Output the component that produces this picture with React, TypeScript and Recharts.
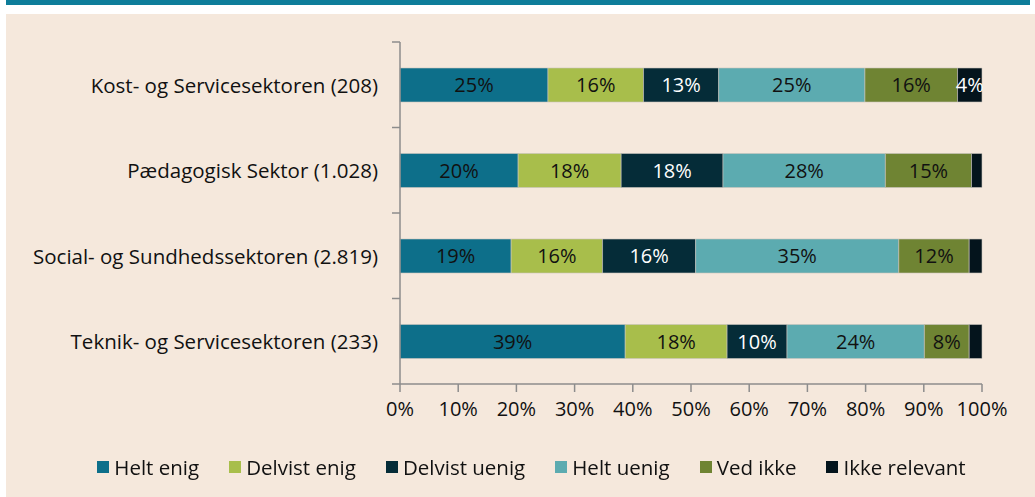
import { Bar, BarChart, LabelList, XAxis, YAxis } from "recharts";

const categories = [
	"Kost- og Servicesektoren (208)",
	"Pædagogisk Sektor (1.028)",
	"Social- og Sundhedssektoren (2.819)",
	"Teknik- og Servicesektoren (233)",
];

const heltEnig = [25.4, 20.3, 19.1, 38.7];
const delvistEnig = [16.4, 17.7, 15.7, 17.5];
const delvistUenig = [12.9, 17.5, 16.0, 10.3];
const heltUenig = [25.1, 27.9, 34.9, 23.6];
const vedIkke = [15.9, 14.8, 12.1, 7.7];
const ikkeRelevant = [4.2, 1.8, 2.2, 2.2];

const xTicks = [0, 0.1, 0.2, 0.3, 0.4, 0.5, 0.6, 0.7, 0.8, 0.9, 1];

const series = [
	{ key: "heltEnig", name: "Helt enig", values: heltEnig, color: "#0d6f8a", text: "#111" },
	{ key: "delvistEnig", name: "Delvist enig", values: delvistEnig, color: "#a8be4b", text: "#111" },
	{ key: "delvistUenig", name: "Delvist uenig", values: delvistUenig, color: "#052c38", text: "#fff" },
	{ key: "heltUenig", name: "Helt uenig", values: heltUenig, color: "#5cabb0", text: "#111" },
	{ key: "vedIkke", name: "Ved ikke", values: vedIkke, color: "#6f8433", text: "#111" },
	{ key: "ikkeRelevant", name: "Ikke relevant", values: ikkeRelevant, color: "#04141c", text: "#fff" },
];

const rows = categories.map((name, i) => {
	const row: Record<string, string | number> = { name };
	series.forEach((s) => {
		row[s.key] = s.values[i];
	});
	return row;
});

const FONT = "'Open Sans', 'Noto Sans', sans-serif";
const AXIS = "#8c8c8c";

function CategoryTick(props: any) {
	const { x, y, payload, index, visibleTicksCount } = props;
	const axisX = x + 8;
	const half = payload.offset ?? 42.75;
	const last = index === visibleTicksCount - 1;
	return (
		<g>
			<text x={axisX - 22} y={y} textAnchor="end" dominantBaseline="central" fontSize={20.5} fill="#111" fontFamily={FONT}>
				{payload.value}
			</text>
			<line x1={axisX - 8} x2={axisX} y1={y - half} y2={y - half} stroke={AXIS} strokeWidth={1.5} />
			{last && <line x1={axisX - 8} x2={axisX} y1={y + half} y2={y + half} stroke={AXIS} strokeWidth={1.5} />}
		</g>
	);
}

export default function App() {
	return (
		<div style={{ position: "fixed", left: 0, top: 0, width: 1035, height: 497, background: "#fff", fontFamily: FONT }}>
			<div style={{ position: "absolute", left: 6, top: 0, width: 1024, height: 5, background: "#0e7d9a" }} />
			<div style={{ position: "absolute", left: 6, top: 14, right: 0, bottom: 0, background: "#f5e8dc" }} />
			<div style={{ position: "absolute", left: 0, top: 0 }}>
				<BarChart
					width={1035}
					height={497}
					data={rows}
					layout="vertical"
					stackOffset="expand"
					margin={{ top: 42, right: 53, bottom: 0, left: 0 }}
				>
					<XAxis
						type="number"
						domain={[0, 1]}
						ticks={xTicks}
						tickFormatter={(v) => `${Math.round(v * 100)}%`}
						height={113}
						tickSize={8}
						tickMargin={10}
						axisLine={{ stroke: AXIS, strokeWidth: 1.5 }}
						tickLine={{ stroke: AXIS, strokeWidth: 1.5 }}
						tick={{ fontSize: 20, fill: "#111", fontFamily: FONT }}
					/>
					<YAxis
						type="category"
						dataKey="name"
						width={400}
						tickSize={6}
						tickMargin={2}
						tickLine={false}
						axisLine={{ stroke: AXIS, strokeWidth: 1.5 }}
						tick={<CategoryTick />}
						interval={0}
					/>
					{series.map((s) => (
						<Bar
							key={s.key}
							dataKey={s.key}
							name={s.name}
							stackId="a"
							fill={s.color}
							barSize={34}
							stroke="#c9c4bd"
							strokeWidth={0.6}
							isAnimationActive={false}
						>
							<LabelList
								dataKey={s.key}
								position="center"
								fill={s.text}
								fontSize={20}
								fontFamily={FONT}
								formatter={(v: any) => (Number(v) >= 3 ? `${Math.round(Number(v))}%` : "")}
							/>
						</Bar>
					))}
				</BarChart>
			</div>
			<div
				style={{
					position: "absolute",
					left: 14,
					top: 453,
					width: 1035,
					display: "flex",
					justifyContent: "center",
					gap: 30,
					fontSize: 20.5,
					color: "#111",
				}}
			>
				{series.map((s) => (
					<div key={s.key} style={{ display: "flex", alignItems: "center", gap: 5 }}>
						<span style={{ width: 12, height: 12, background: s.color, display: "inline-block" }} />
						<span>{s.name}</span>
					</div>
				))}
			</div>
		</div>
	);
}
